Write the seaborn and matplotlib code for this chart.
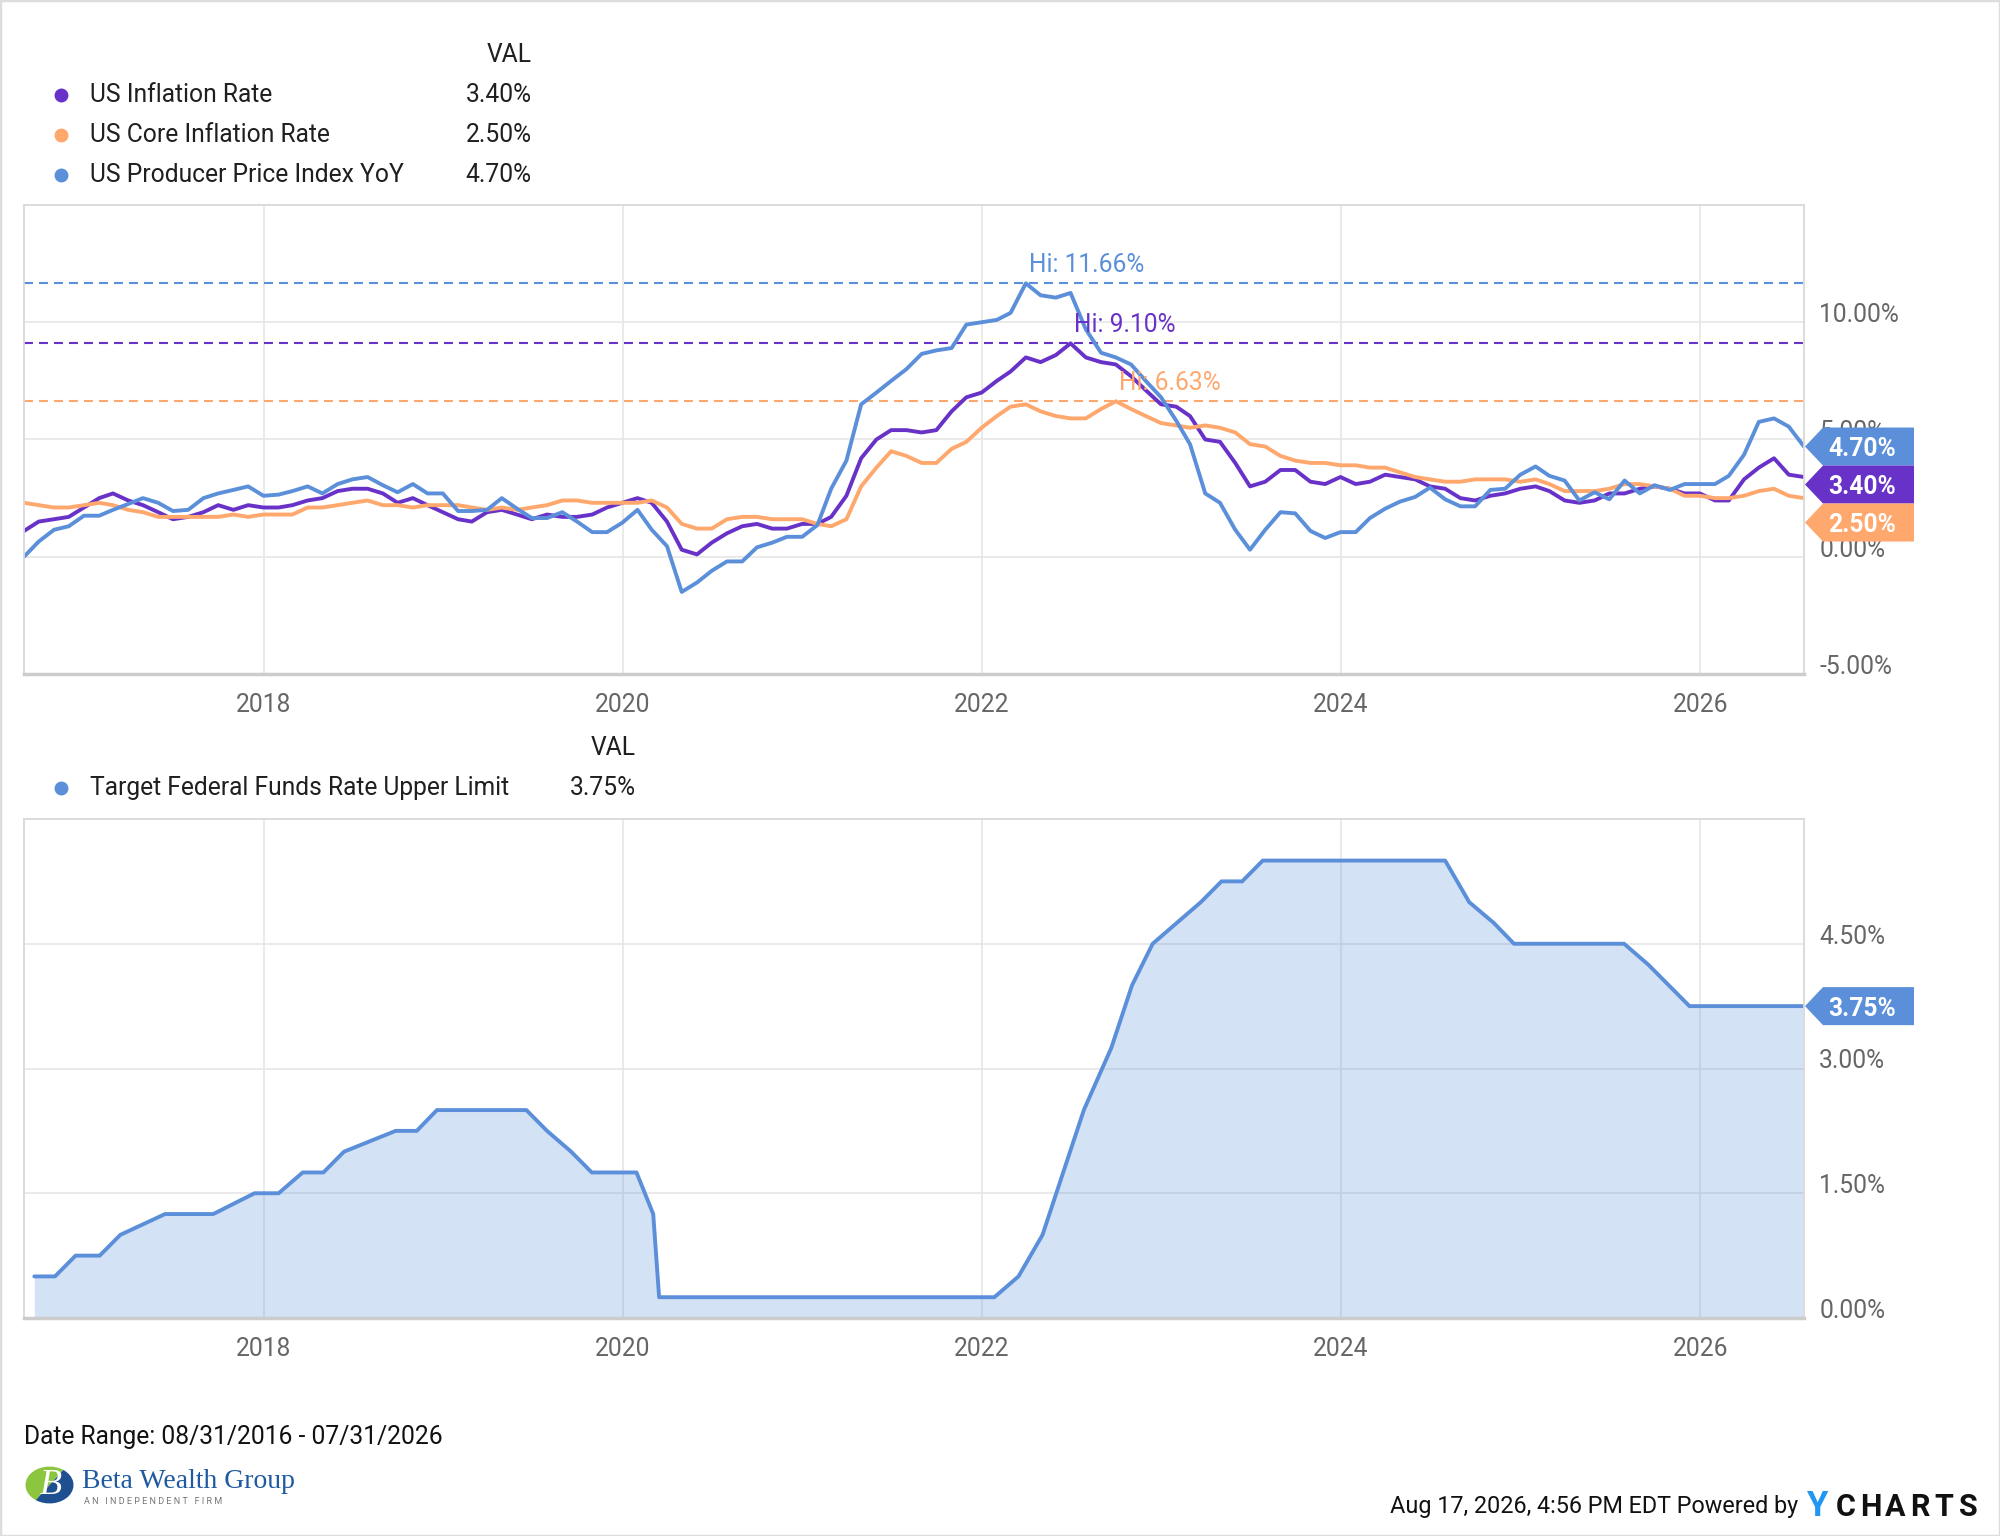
import numpy as np
import pandas as pd
import matplotlib
matplotlib.use("Agg")
import matplotlib.pyplot as plt
import matplotlib.dates as mdates
from matplotlib.patches import Polygon, Rectangle, Wedge
from matplotlib.lines import Line2D
import seaborn as sns

# ---------------- data ----------------
series_names = ["US Inflation Rate", "US Core Inflation Rate", "US Producer Price Index YoY"]
first_month = "2016-08-31"
last_month = "2026-07-31"

cpi = [1.1, 1.5, 1.6, 1.7, 2.1,
       2.5, 2.7, 2.4, 2.2, 1.9, 1.6, 1.7, 1.9, 2.2, 2.0, 2.2, 2.1,
       2.1, 2.2, 2.4, 2.5, 2.8, 2.9, 2.9, 2.7, 2.3, 2.5, 2.2, 1.9,
       1.6, 1.5, 1.9, 2.0, 1.8, 1.6, 1.8, 1.7, 1.7, 1.8, 2.1, 2.3,
       2.5, 2.3, 1.5, 0.3, 0.1, 0.6, 1.0, 1.3, 1.4, 1.2, 1.2, 1.4,
       1.4, 1.7, 2.6, 4.2, 5.0, 5.4, 5.4, 5.3, 5.4, 6.2, 6.8, 7.0,
       7.5, 7.9, 8.5, 8.3, 8.6, 9.1, 8.5, 8.3, 8.2, 7.7, 7.1, 6.5,
       6.4, 6.0, 5.0, 4.9, 4.0, 3.0, 3.2, 3.7, 3.7, 3.2, 3.1, 3.4,
       3.1, 3.2, 3.5, 3.4, 3.3, 3.0, 2.9, 2.5, 2.4, 2.6, 2.7, 2.9,
       3.0, 2.8, 2.4, 2.3, 2.4, 2.7, 2.7, 2.9, 3.0, 2.9, 2.7, 2.7,
       2.4, 2.4, 3.3, 3.8, 4.2, 3.5, 3.4]

core = [2.3, 2.2, 2.1, 2.1, 2.2,
        2.3, 2.2, 2.0, 1.9, 1.7, 1.7, 1.7, 1.7, 1.7, 1.8, 1.7, 1.8,
        1.8, 1.8, 2.1, 2.1, 2.2, 2.3, 2.4, 2.2, 2.2, 2.1, 2.2, 2.2,
        2.2, 2.1, 2.0, 2.1, 2.0, 2.1, 2.2, 2.4, 2.4, 2.3, 2.3, 2.3,
        2.3, 2.4, 2.1, 1.4, 1.2, 1.2, 1.6, 1.7, 1.7, 1.6, 1.6, 1.6,
        1.4, 1.3, 1.6, 3.0, 3.8, 4.5, 4.3, 4.0, 4.0, 4.6, 4.9, 5.5,
        6.0, 6.4, 6.5, 6.2, 6.0, 5.9, 5.9, 6.3, 6.63, 6.3, 6.0, 5.7,
        5.6, 5.5, 5.6, 5.5, 5.3, 4.8, 4.7, 4.3, 4.1, 4.0, 4.0, 3.9,
        3.9, 3.8, 3.8, 3.6, 3.4, 3.3, 3.2, 3.2, 3.3, 3.3, 3.3, 3.2,
        3.3, 3.1, 2.8, 2.8, 2.8, 2.9, 3.1, 3.1, 3.0, 2.9, 2.6, 2.6,
        2.5, 2.5, 2.6, 2.8, 2.9, 2.6, 2.5]

ppi = [0.0, 0.65, 1.15, 1.3, 1.75,
       1.75, 2.0, 2.25, 2.5, 2.3, 1.95, 2.0, 2.5, 2.7, 2.85, 3.0, 2.6,
       2.65, 2.8, 3.0, 2.7, 3.1, 3.3, 3.4, 3.05, 2.75, 3.1, 2.7, 2.7,
       1.95, 1.95, 2.0, 2.5, 2.05, 1.65, 1.65, 1.9, 1.5, 1.05, 1.05, 1.45,
       2.0, 1.15, 0.45, -1.5, -1.1, -0.6, -0.2, -0.2, 0.4, 0.6, 0.85, 0.85,
       1.35, 2.9, 4.1, 6.5, 7.0, 7.5, 8.0, 8.65, 8.8, 8.9, 9.9, 10.0,
       10.1, 10.4, 11.66, 11.15, 11.05, 11.25, 9.7, 8.7, 8.5, 8.2, 7.5, 6.8,
       5.8, 4.8, 2.7, 2.3, 1.15, 0.3, 1.15, 1.9, 1.85, 1.1, 0.8, 1.05,
       1.05, 1.65, 2.05, 2.35, 2.55, 2.95, 2.45, 2.15, 2.15, 2.85, 2.9, 3.5,
       3.85, 3.45, 3.25, 2.4, 2.75, 2.45, 3.25, 2.7, 3.05, 2.85, 3.1, 3.1,
       3.1, 3.45, 4.35, 5.75, 5.9, 5.55, 4.7]

fed_name = "Target Federal Funds Rate Upper Limit"
fed_dates = ["2016-09-21", "2016-11-02", "2016-12-14", "2017-02-01", "2017-03-15",
             "2017-06-14", "2017-09-20", "2017-12-13", "2018-01-31", "2018-03-21",
             "2018-05-02", "2018-06-13", "2018-09-26", "2018-11-08", "2018-12-19",
             "2019-06-19", "2019-07-31", "2019-09-18", "2019-10-30", "2020-01-29",
             "2020-03-03", "2020-03-15", "2022-01-26", "2022-03-16", "2022-05-04",
             "2022-06-15", "2022-07-27", "2022-09-21", "2022-11-02", "2022-12-14",
             "2023-02-01", "2023-03-22", "2023-05-03", "2023-06-14", "2023-07-26",
             "2024-07-31", "2024-09-18", "2024-11-07", "2024-12-18", "2025-07-30",
             "2025-09-17", "2025-10-29", "2025-12-10", "2026-07-29"]
fed_values = [0.50, 0.50, 0.75, 0.75, 1.00,
              1.25, 1.25, 1.50, 1.50, 1.75,
              1.75, 2.00, 2.25, 2.25, 2.50,
              2.50, 2.25, 2.00, 1.75, 1.75,
              1.25, 0.25, 0.25, 0.50, 1.00,
              1.75, 2.50, 3.25, 4.00, 4.50,
              4.75, 5.00, 5.25, 5.25, 5.50,
              5.50, 5.00, 4.75, 4.50, 4.50,
              4.25, 4.00, 3.75, 3.75]

top_yticks = [-5, 0, 5, 10]
bottom_yticks = [0, 1.5, 3.0, 4.5]
date_range_text = "Date Range: 08/31/2016 - 07/31/2026"
stamp_text = "Aug 17, 2026, 4:56 PM EDT Powered by"

# ---------------- style ----------------
BLUE = "#5B8FD9"
PURPLE = "#6832C8"
ORANGE = "#FFA86E"
palette = {series_names[0]: PURPLE, series_names[1]: ORANGE, series_names[2]: BLUE}
TICK_COLOR = "#666666"
TEXT_COLOR = "#1f1f1f"
GRID_COLOR = "#e6e6e6"
FS = 17.7

W, H, DPI = 2000, 1536, 100
sns.set_theme(style="white")
plt.rcParams["font.family"] = ["Roboto", "DejaVu Sans"]

fig = plt.figure(figsize=(W / DPI, H / DPI), dpi=DPI, facecolor="white")


def fx(px):
    return px / W


def fy(py):
    return 1 - py / H


ax1 = fig.add_axes([fx(24), fy(674), (1804 - 24) / W, (674 - 205) / H])
ax2 = fig.add_axes([fx(24), fy(1318), (1804 - 24) / W, (1318 - 819) / H])

dates = pd.date_range(first_month, last_month, freq="ME")
df = pd.DataFrame({
    "date": np.tile(dates, 3),
    "value": cpi + core + ppi,
    "series": np.repeat(series_names, len(dates)),
})
fed_df = pd.DataFrame({"date": pd.to_datetime(fed_dates), "value": fed_values})

# ---------------- top chart ----------------
sns.lineplot(data=df, x="date", y="value", hue="series", hue_order=series_names,
             palette=palette, linewidth=2.8, legend=False, ax=ax1, estimator=None)

series_values = {series_names[0]: cpi, series_names[1]: core, series_names[2]: ppi}
for name in series_names:
    vals = np.array(series_values[name])
    i = int(np.argmax(vals))
    hi = vals[i]
    ax1.axhline(hi, color=palette[name], lw=1.5, ls=(0, (4.3, 2.9)), zorder=1)
    ax1.annotate(f"Hi: {hi:.2f}%", xy=(dates[i], hi), xytext=(3, 11),
                 textcoords="offset pixels", ha="left", va="baseline",
                 fontsize=FS, color=palette[name])

ax1.set_ylim(-5, 15)
ax1.set_yticks(top_yticks)
ax1.set_yticklabels([f"{v:.2f}%" for v in top_yticks])

# ---------------- bottom chart ----------------
sns.lineplot(data=fed_df, x="date", y="value", color=BLUE, linewidth=2.8, ax=ax2)
ax2.fill_between(fed_df["date"], fed_df["value"], 0, color=BLUE, alpha=0.26, lw=0)
ax2.set_ylim(0, 6)
ax2.set_yticks(bottom_yticks)
ax2.set_yticklabels([f"{v:.2f}%" for v in bottom_yticks])

for ax in (ax1, ax2):
    ax.set_xlim(dates[0], dates[-1])
    ax.set_xlabel("")
    ax.set_ylabel("")
    ax.xaxis.set_major_locator(mdates.YearLocator(2))
    ax.xaxis.set_major_formatter(mdates.DateFormatter("%Y"))
    ax.yaxis.tick_right()
    ax.tick_params(axis="x", length=0, pad=14, labelsize=FS, labelcolor=TICK_COLOR)
    ax.tick_params(axis="y", length=0, pad=11, labelsize=FS, labelcolor=TICK_COLOR)
    for lab in ax.get_yticklabels():
        lab.set_va("baseline")
    ax.grid(True, color=GRID_COLOR, lw=1.2)
    ax.set_axisbelow(True)
    for s in ax.spines.values():
        s.set_color("#d9d9d9")
        s.set_linewidth(1.3)
    ax.spines["bottom"].set_color("#cccccc")
    ax.spines["bottom"].set_linewidth(2.5)

# ---------------- value flags on the right ----------------
BOX_H = 38
TIP_X, BODY_L, BODY_R = 1805, 1823, 1914


def draw_flags(ax, items):
    prev = None
    xnum = mdates.date2num(dates[-1])
    for val, color in items:
        c = ax.transData.transform((xnum, val))[1]
        if prev is not None:
            c = min(c, prev - BOX_H)
        prev = c
        verts = [(TIP_X, c), (BODY_L, c + BOX_H / 2), (BODY_R, c + BOX_H / 2),
                 (BODY_R, c - BOX_H / 2), (BODY_L, c - BOX_H / 2)]
        verts = [(x / W, y / H) for x, y in verts]
        fig.add_artist(Polygon(verts, closed=True, transform=fig.transFigure,
                               facecolor=color, edgecolor="none", zorder=20))
        fig.text(1862 / W, c / H, f"{val:.2f}%", ha="center", va="center_baseline",
                 fontsize=FS, fontweight="bold", color="white", zorder=21)


top_items = sorted([(ppi[-1], BLUE), (cpi[-1], PURPLE), (core[-1], ORANGE)],
                   key=lambda t: -t[0])
draw_flags(ax1, top_items)
draw_flags(ax2, [(fed_values[-1], BLUE)])

# ---------------- legends ----------------
fig.text(fx(532), fy(55), "VAL", ha="right", va="center", fontsize=FS, color=TEXT_COLOR)
for k, name in enumerate(series_names):
    yy = [95, 135, 175][k]
    fig.add_artist(Line2D([fx(61)], [fy(yy)], marker="o", markersize=9,
                          color=palette[name], transform=fig.transFigure, lw=0))
    fig.text(fx(90), fy(yy), name, ha="left", va="center", fontsize=FS, color=TEXT_COLOR)
    fig.text(fx(532), fy(yy), f"{series_values[name][-1]:.2f}%", ha="right",
             va="center", fontsize=FS, color=TEXT_COLOR)

fig.text(fx(636), fy(748), "VAL", ha="right", va="center", fontsize=FS, color=TEXT_COLOR)
fig.add_artist(Line2D([fx(61)], [fy(788)], marker="o", markersize=9, color=BLUE,
                      transform=fig.transFigure, lw=0))
fig.text(fx(90), fy(788), fed_name, ha="left", va="center", fontsize=FS, color=TEXT_COLOR)
fig.text(fx(636), fy(788), f"{fed_values[-1]:.2f}%", ha="right", va="center",
         fontsize=FS, color=TEXT_COLOR)

# ---------------- footer ----------------
fig.text(fx(24), fy(1437), date_range_text, ha="left", va="center", fontsize=FS,
         color="#111111")
fig.text(fx(1798), fy(1506), stamp_text, ha="right", va="center", fontsize=16.8,
         color="#111111")
fig.text(fx(1818), fy(1507), "Y", ha="center", va="center", fontsize=25,
         fontweight="bold", color="#2196F3")
logo_letters = "CHARTS"
for j, ch in enumerate(logo_letters):
    fig.text(fx(1846 + j * 24.5), fy(1507), ch, ha="center", va="center", fontsize=22,
             fontweight="bold", color="#111111")

# Beta Wealth Group logo (approximation)
cx, cy, r = 49.5, 1485, 24
fig.add_artist(Wedge((fx(cx), fy(cy)), r / W, 55, 235, transform=fig.transFigure,
                     facecolor="#8CC63F", edgecolor="none"))
fig.add_artist(Wedge((fx(cx), fy(cy)), r / W, 235, 415, transform=fig.transFigure,
                     facecolor="#1D4F91", edgecolor="none"))
fig.text(fx(cx + 1), fy(cy + 1), "B", ha="center", va="center", fontsize=26,
         style="italic", family=["Liberation Serif", "DejaVu Serif"], color="white")
fig.text(fx(82), fy(1481), "Beta Wealth Group", ha="left", va="center", fontsize=20,
         family=["Liberation Serif", "DejaVu Serif"], color="#1F5AA0")
fig.text(fx(84), fy(1501), "A N   I N D E P E N D E N T   F I R M", ha="left",
         va="center", fontsize=6.5, color="#777777")

# outer border
fig.add_artist(Rectangle((0, 0), 1, 1, transform=fig.transFigure, fill=False,
                         edgecolor="#dddddd", lw=2.5))

fig.savefig("out.png", dpi=DPI, facecolor="white")
